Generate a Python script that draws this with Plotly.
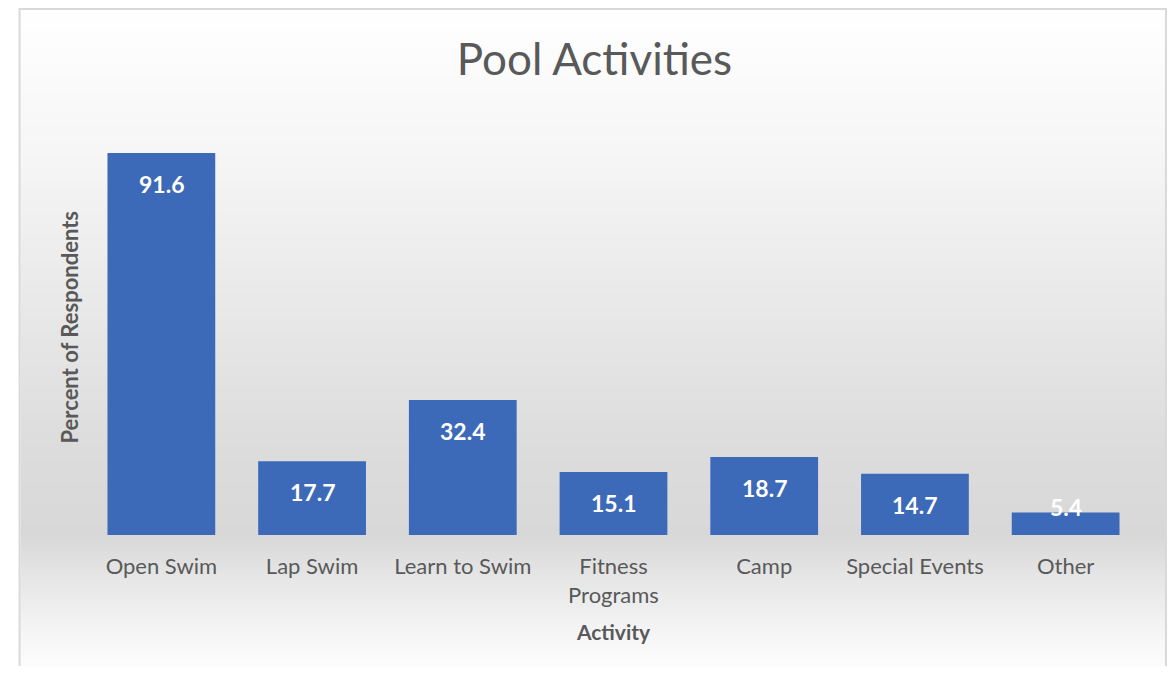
import plotly.graph_objects as go

categories = ["Open Swim", "Lap Swim", "Learn to Swim", "Fitness<br>Programs", "Camp", "Special Events", "Other"]
values = [91.6, 17.7, 32.4, 15.1, 18.7, 14.7, 5.4]
chart_title = "Pool Activities"
x_title = "Activity"
y_title = "Percent of Respondents"

OFF = 8  # page body margin
W, H = 1176 - 2 * OFF, 674 - 2 * OFF
# plot area in screen pixels
PX0, PX1, PY0, PY1 = 85.5, 1141.5, 118, 535
L = PX0 - OFF
R = W - (PX1 - OFF)
T = PY0 - OFF
B = H - (PY1 - OFF)
PW, PH = PX1 - PX0, PY1 - PY0
YMAX = 100.0
ppu = PH / YMAX

def px_x(p):
    return (p - PX0) / PW

def px_y(p):
    return (PY1 - p) / PH

# background gradient stops (screen pixel y, gray level)
stops = [(7, 255), (150, 246), (300, 233), (450, 220), (535, 216), (565, 226), (620, 242), (674, 254)]

def gray_at(y):
    for (y0, g0), (y1, g1) in zip(stops[:-1], stops[1:]):
        if y0 <= y <= y1:
            t = (y - y0) / (y1 - y0)
            return g0 + (g1 - g0) * t
    return stops[-1][1]

shapes = []
step = 3
y = 9
while y < 690:
    g = int(round(gray_at(y + step / 2)))
    shapes.append(dict(type="rect", xref="paper", yref="paper", layer="below",
                       x0=px_x(20), x1=px_x(1165.5), y0=px_y(y), y1=px_y(y + step + 0.6),
                       fillcolor=f"rgb({g},{g},{g})", line=dict(width=0)))
    y += step
shapes.append(dict(type="rect", xref="paper", yref="paper", layer="below",
                   x0=px_x(19), x1=px_x(1166.5), y0=px_y(9), y1=px_y(700),
                   fillcolor="rgba(0,0,0,0)", line=dict(color="#d9d9d9", width=2)))

fig = go.Figure(go.Bar(
    x=categories, y=values,
    marker=dict(color="#3d69b9", line=dict(width=0)),
    hoverinfo="x+y",
))

annotations = []
for c, v in zip(categories, values):
    ylab = max(v - 31 / ppu, 28 / ppu)
    annotations.append(dict(x=c, y=ylab, xref="x", yref="y", text=f"{v:.1f}", showarrow=False,
                            font=dict(family="Lato", size=23, color="white", weight="bold"),
                            yanchor="middle"))
annotations.append(dict(x=px_x(68), y=px_y(327), xref="paper", yref="paper", text=y_title,
                        textangle=-90, showarrow=False, xanchor="center", yanchor="middle",
                        font=dict(family="Lato", size=22, color="#595959", weight="bold")))

fig.update_layout(
    width=W, height=H,
    margin=dict(l=L, r=R, t=T, b=B),
    paper_bgcolor="white",
    plot_bgcolor="rgba(0,0,0,0)",
    bargap=0.285,
    showlegend=False,
    shapes=shapes,
    annotations=annotations,
    title=dict(text=chart_title, x=(594.5 - OFF) / W, xanchor="center",
               y=1 - (60 - OFF) / H, yanchor="middle",
               font=dict(family="Lato", size=44, color="#595959")),
    xaxis=dict(range=[-0.5, 6.5], showgrid=False, zeroline=False, showline=False,
               ticks="outside", ticklen=12, tickcolor="rgba(0,0,0,0)",
               tickfont=dict(family="Lato", size=22, color="#595959"),
               title=dict(text=x_title, standoff=18,
                          font=dict(family="Lato", size=21, color="#595959", weight="bold"))),
    yaxis=dict(range=[0, YMAX], showgrid=False, zeroline=False, showline=False,
               showticklabels=False),
)

fig.write_html("out.html")
